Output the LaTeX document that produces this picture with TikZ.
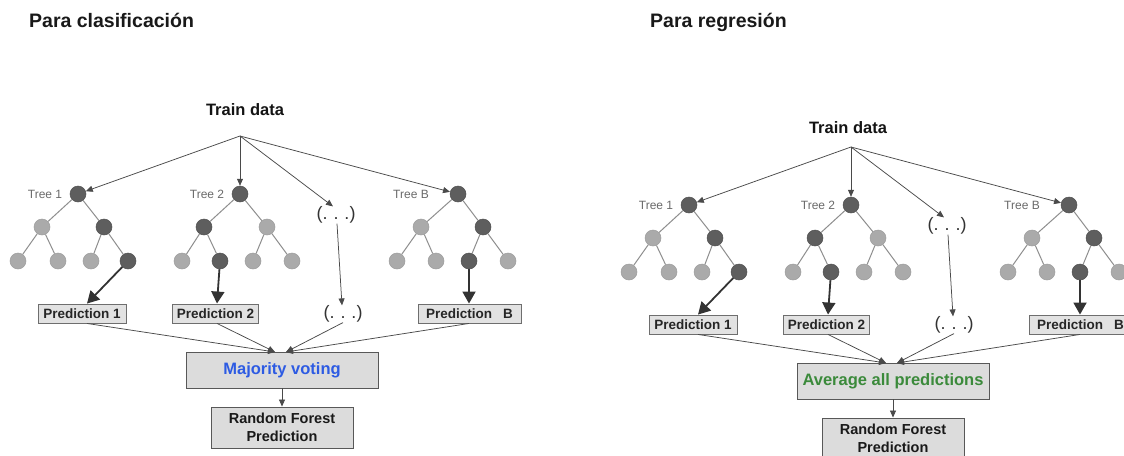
\documentclass[tikz,border=0pt]{standalone}
\usepackage{fontspec}
\setmainfont{Liberation Sans}
\usetikzlibrary{arrows.meta}

\definecolor{darknode}{HTML}{5E5E5E}
\definecolor{lightnode}{HTML}{AAAAAA}
\definecolor{branchgray}{HTML}{8E8E8E}
\definecolor{feedgray}{HTML}{4A4A4A}
\definecolor{pickgray}{HTML}{333333}
\definecolor{boxfill}{HTML}{E2E2E2}
\definecolor{boxline}{HTML}{6E6E6E}
\definecolor{votefill}{HTML}{DCDCDC}
\definecolor{voteblue}{HTML}{2D5BE3}
\definecolor{avggreen}{HTML}{3B8A3B}
\definecolor{labelgray}{HTML}{6A6A6A}

\newcommand{\fsz}[1]{\fontsize{#1pt}{#1pt}\selectfont}

\tikzset{
  dk/.style={circle, fill=darknode, draw=darknode!85!black, line width=0.5pt,
             minimum size=16pt, inner sep=0pt},
  lt/.style={circle, fill=lightnode, draw=lightnode!92!black, line width=0.5pt,
             minimum size=16pt, inner sep=0pt},
  branch/.style={draw=branchgray, line width=1pt},
  feed/.style={draw=feedgray, line width=0.75pt, -{Triangle[length=7pt,width=6pt]}},
  pick/.style={draw=pickgray, line width=1.8pt, -{Triangle[length=12pt,width=13pt]}},
  predbox/.style={draw=boxline, fill=boxfill, line width=0.9pt, inner sep=0pt,
                  minimum height=19pt, font=\bfseries\fsz{13.5}, text=black!85},
  votebox/.style={draw=boxline!80!black, fill=votefill, line width=0.9pt, inner sep=0pt,
                  minimum width=192pt, minimum height=36pt, font=\bfseries\fsz{16.5}},
  rfbox/.style={draw=boxline!80!black, fill=votefill, line width=0.9pt, inner sep=0pt,
                minimum width=142pt, minimum height=41pt, align=center,
                font=\bfseries\fsz{14.5}, text=black!90},
  treelabel/.style={font=\fsz{12}, text=labelgray, inner sep=0pt},
  dots/.style={font=\fsz{18}, text=black!80, inner sep=0pt},
  headline/.style={font=\bfseries\fsz{16.5}, text=black!92, inner sep=0pt},
  paneltitle/.style={font=\bfseries\fsz{19.5}, text=black!90, inner sep=0pt},
}

% One random-forest panel.
% #1 name prefix, #2 x shift, #3 y shift, #4 merge text, #5 merge colour,
% #6 position of the "Train data" heading
\newcommand{\rfpanel}[6]{%
\begin{scope}[shift={(#2,#3)}]
  \node[headline] (#1head) at #6 {Train data};
  \coordinate (#1src) at (240,136);

  % Tree 1
  \node[dk] (#1a) at (78,194) {};
  \node[lt] (#1a1) at (42,227) {};
  \node[dk] (#1a2) at (104,227) {};
  \node[lt] (#1a11) at (18,261) {};
  \node[lt] (#1a12) at (58,261) {};
  \node[lt] (#1a21) at (91,261) {};
  \node[dk] (#1a22) at (128,261) {};
  \node[treelabel] (#1la) at (45,194) {Tree 1};

  % Tree 2
  \node[dk] (#1b) at (240,194) {};
  \node[dk] (#1b1) at (204,227) {};
  \node[lt] (#1b2) at (267,227) {};
  \node[lt] (#1b11) at (182,261) {};
  \node[dk] (#1b12) at (220,261) {};
  \node[lt] (#1b21) at (253,261) {};
  \node[lt] (#1b22) at (292,261) {};
  \node[treelabel] (#1lb) at (207,194) {Tree 2};

  % Tree B
  \node[dk] (#1c) at (458,194) {};
  \node[lt] (#1c1) at (421,227) {};
  \node[dk] (#1c2) at (483,227) {};
  \node[lt] (#1c11) at (397,261) {};
  \node[lt] (#1c12) at (436,261) {};
  \node[dk] (#1c21) at (469,261) {};
  \node[lt] (#1c22) at (508,261) {};
  \node[treelabel] (#1lc) at (411,194) {Tree B};

  % branches
  \foreach \p/\q in {a/a1,a/a2,a1/a11,a1/a12,a2/a21,a2/a22,
                     b/b1,b/b2,b1/b11,b1/b12,b2/b21,b2/b22,
                     c/c1,c/c2,c1/c11,c1/c12,c2/c21,c2/c22}
    \draw[branch] (#1\p) -- (#1\q);

  % elided trees
  \node[dots] (#1d1) at (336,215) {(.\,\,.\,\,.)};
  \node[dots] (#1d2) at (343,314) {(.\,\,.\,\,.)};

  % predictions
  \node[predbox, minimum width=88pt] (#1p1) at (82,313.5) {Prediction 1};
  \node[predbox, minimum width=86pt] (#1p2) at (215.5,313.5) {Prediction 2};
  \node[predbox, minimum width=103pt] (#1pb) at (469.5,313.5) {Prediction\hspace{11pt}B};

  % bootstrap samples fed to each tree
  \draw[feed] (#1src) -- (#1a);
  \draw[feed] (#1src) -- (#1b);
  \draw[feed] (#1src) -- ([xshift=-3pt]#1d1.north);
  \draw[feed] (#1src) -- (#1c);
  \draw[feed] ([xshift=1pt]#1d1.south) -- ([xshift=-1pt]#1d2.north);

  % leaf reached by each tree
  \draw[pick] (#1a22) -- ([xshift=5pt]#1p1.north);
  \draw[pick] (#1b12) -- ([xshift=1.5pt]#1p2.north);
  \draw[pick] (#1c21) -- (#1c21 |- #1pb.north);

  % combination
  \node[votebox, text=#5] (#1vote) at (282,370) {#4};
  \coordinate (#1inl) at (275,352);
  \coordinate (#1inr) at (286,352);
  \draw[feed] ([xshift=5pt]#1p1.south) -- (#1inl);
  \draw[feed] ([xshift=1.5pt]#1p2.south) -- (#1inl);
  \draw[feed] (#1d2.south) -- (#1inr);
  \draw[feed] (#1c21 |- #1pb.south) -- (#1inr);

  \node[rfbox] (#1rf) at (282,427.5) {Random Forest\\[3pt]Prediction};
  \draw[feed] (#1vote) -- (#1rf);
\end{scope}}

\begin{document}
\begin{tikzpicture}[x=1pt,y=-1pt]
  \useasboundingbox (0,0) rectangle (1124,455);
  \fill[white] (0,0) rectangle (1124,455);

  \node[paneltitle, anchor=west] (tclass) at (29,20) {Para clasificación};
  \node[paneltitle, anchor=west] (tregr) at (650,22) {Para regresión};

  \rfpanel{L}{0}{0}{Majority voting}{voteblue}{(245,110)}
  \rfpanel{R}{611}{11}{Average all predictions}{avggreen}{(237,117)}
\end{tikzpicture}
\end{document}
